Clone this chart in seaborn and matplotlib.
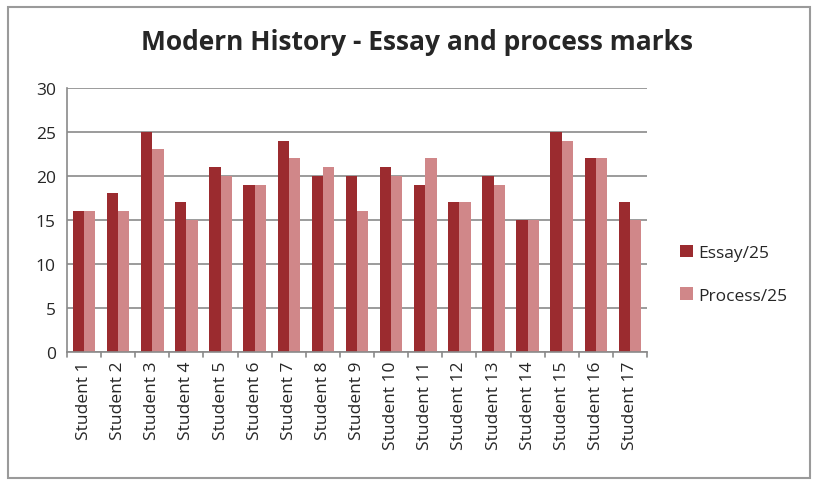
import matplotlib
matplotlib.use("Agg")
import matplotlib.pyplot as plt
import seaborn as sns
import pandas as pd
from matplotlib.patches import Rectangle

students = [f"Student {i}" for i in range(1, 18)]
essay = [16, 18, 25, 17, 21, 19, 24, 20, 20, 21, 19, 17, 20, 15, 25, 22, 17]
process = [16, 16, 23, 15, 20, 19, 22, 21, 16, 20, 22, 17, 19, 15, 24, 22, 15]
series_names = ["Essay/25", "Process/25"]
yticks = [0, 5, 10, 15, 20, 25, 30]

df = pd.DataFrame({
    "Student": students * 2,
    "Mark": essay + process,
    "Series": [series_names[0]] * len(students) + [series_names[1]] * len(students),
})

sns.set_theme(style="white")
plt.rcParams['font.family'] = ['Open Sans', 'DejaVu Sans']

fig = plt.figure(figsize=(8.17, 4.85), dpi=100)
ax = fig.add_axes([0.082, 0.272, 0.710, 0.545])

palette = {"Essay/25": "#9b2b2f", "Process/25": "#d08789"}
sns.barplot(data=df, x="Student", y="Mark", hue="Series", palette=palette,
            width=0.66, ax=ax, saturation=1, legend=True, edgecolor="none")

ax.set_ylim(0, 30)
ax.set_yticks(yticks)
ax.set_yticklabels([str(t) for t in yticks], fontsize=12.5)
ax.yaxis.grid(True, color="#8a8a8a", linewidth=1.2)
ax.set_axisbelow(True)
ax.set_xlim(-0.5, len(students) - 0.5)
ax.set_xlabel("")
ax.set_ylabel("")
ax.tick_params(axis="x", rotation=90, labelsize=12.5, length=0, pad=6)
ax.tick_params(axis="y", length=0, pad=8)
for s in ["top", "right"]:
    ax.spines[s].set_visible(False)
ax.spines["left"].set_color("#8a8a8a")
ax.spines["bottom"].set_color("#8a8a8a")
ax.spines["left"].set_linewidth(1.2)
ax.spines["bottom"].set_linewidth(1.2)

# category separator ticks
for i in range(len(students) + 1):
    ax.plot([i - 0.5, i - 0.5], [0, -0.6], color="#8a8a8a", lw=1.2, clip_on=False)

leg = ax.legend(loc="center left", bbox_to_anchor=(1.03, 0.295), frameon=False,
                fontsize=12.5, handlelength=0.75, handleheight=0.75,
                handletextpad=0.3, labelspacing=1.5)

fig.suptitle("Modern History - Essay and process marks", fontsize=19,
             fontweight="bold", x=0.51, y=0.94)

fig.patches.append(Rectangle((0.010, 0.012), 0.982, 0.972, transform=fig.transFigure,
                             fill=False, edgecolor="#9a9a9a", linewidth=1.5))

fig.savefig("out.png", dpi=100)
